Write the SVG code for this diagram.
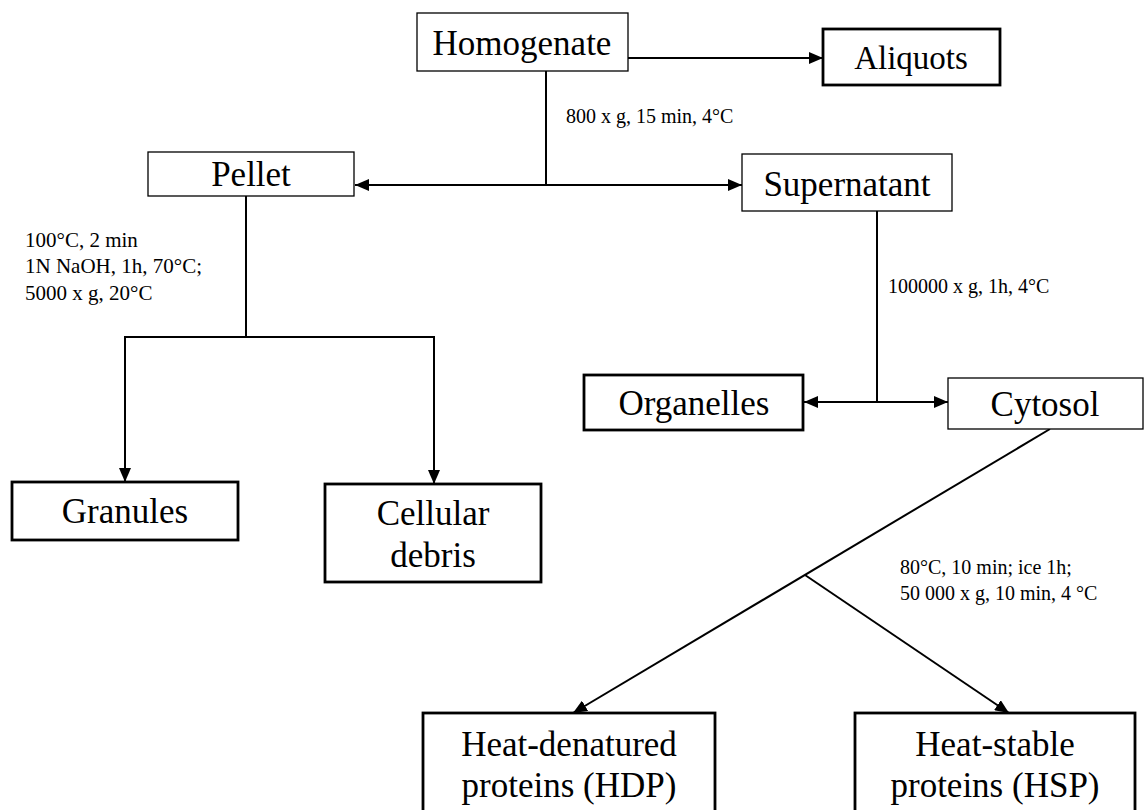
<svg xmlns="http://www.w3.org/2000/svg" width="1144" height="810" viewBox="0 0 1144 810">
<style>
  .box { fill: #fff; stroke: #000; stroke-width: 1.3; }
  .thick { fill: #fff; stroke: #000; stroke-width: 2.8; }
  .t { font-family: "Liberation Serif", "Times New Roman", serif; font-size: 35px; fill: #000; text-anchor: middle; }
  .s { font-family: "Liberation Serif", "Times New Roman", serif; font-size: 20px; fill: #000; }
  .sl { font-family: "Liberation Serif", "Times New Roman", serif; font-size: 21px; fill: #000; }
  .ln { fill: none; stroke: #000; stroke-width: 2; }
</style>
<defs>
  <marker id="ah" viewBox="0 0 14 12" refX="14" refY="6" markerWidth="14" markerHeight="12" markerUnits="userSpaceOnUse" orient="auto-start-reverse">
    <path d="M0,0 L14,6 L0,12 z" fill="#000"/>
  </marker>
</defs>
<rect width="1144" height="810" fill="#fff"/>
<g id="connectors">
  <line class="ln" x1="628" y1="58" x2="823" y2="58" marker-end="url(#ah)"/>
  <line class="ln" x1="546" y1="71" x2="546" y2="185"/>
  <line class="ln" x1="355" y1="185" x2="742" y2="185" marker-start="url(#ah)" marker-end="url(#ah)"/>
  <line class="ln" x1="246" y1="196" x2="246" y2="337"/>
  <polyline class="ln" points="125,482 125,337 434,337 434,484" marker-start="url(#ah)" marker-end="url(#ah)"/>
  <line class="ln" x1="877" y1="211" x2="877" y2="402"/>
  <line class="ln" x1="804" y1="402" x2="948" y2="402" marker-start="url(#ah)" marker-end="url(#ah)"/>
  <line class="ln" x1="1050" y1="429" x2="573" y2="713" marker-end="url(#ah)"/>
  <line class="ln" x1="805" y1="575" x2="1009" y2="713" marker-end="url(#ah)"/>
</g>
<g id="homogenate"><rect class="box" x="417" y="13" width="211" height="58"/><text class="t" x="522" y="55">Homogenate</text></g>
<g id="aliquots"><rect class="thick" x="823" y="29" width="177" height="56"/><text class="t" x="911" y="69" style="font-size:33px">Aliquots</text></g>
<g id="pellet"><rect class="box" x="148" y="152" width="206" height="44"/><text class="t" x="251" y="186">Pellet</text></g>
<g id="supernatant"><rect class="box" x="742" y="154" width="210" height="57"/><text class="t" x="847" y="196">Supernatant</text></g>
<g id="granules"><rect class="thick" x="12" y="482" width="226" height="58"/><text class="t" x="125" y="523">Granules</text></g>
<g id="cellular-debris"><rect class="thick" x="325" y="484" width="216" height="98"/><text class="t" x="433" y="525">Cellular</text><text class="t" x="433" y="567">debris</text></g>
<g id="organelles"><rect class="thick" x="584" y="375" width="219" height="55"/><text class="t" x="694" y="415">Organelles</text></g>
<g id="cytosol"><rect class="box" x="948" y="378" width="195" height="51"/><text class="t" x="1045" y="416">Cytosol</text></g>
<g id="hdp"><rect class="thick" x="423" y="713" width="292" height="100"/><text class="t" x="569" y="756">Heat-denatured</text><text class="t" x="569" y="797">proteins (HDP)</text></g>
<g id="hsp"><rect class="thick" x="855" y="713" width="280" height="100"/><text class="t" x="995" y="756">Heat-stable</text><text class="t" x="995" y="797">proteins (HSP)</text></g>
<g id="labels">
  <text class="s" x="566" y="123">800 x g, 15 min, 4°C</text>
  <text class="sl" x="25" y="247">100°C, 2 min</text>
  <text class="sl" x="25" y="273">1N NaOH, 1h, 70°C;</text>
  <text class="sl" x="25" y="300">5000 x g, 20°C</text>
  <text class="s" x="888" y="293">100000 x g, 1h, 4°C</text>
  <text class="s" x="900" y="574">80°C, 10 min; ice 1h;</text>
  <text class="s" x="900" y="600">50 000 x g, 10 min, 4 °C</text>
</g>
</svg>
